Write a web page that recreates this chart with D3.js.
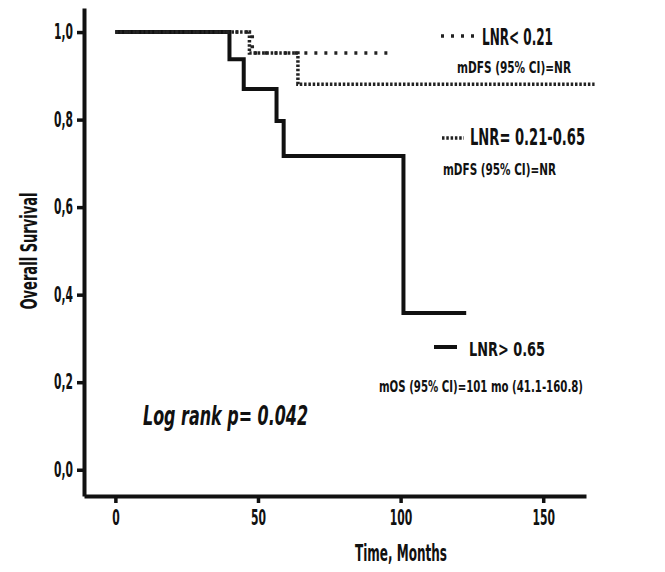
<!DOCTYPE html>
<html>
<head>
<meta charset="utf-8">
<script src="https://cdn.jsdelivr.net/npm/d3@7"></script>
<style>
  body { margin: 0; background: #fff; }
  text { font-family: "Liberation Sans Narrow", "DejaVu Sans Condensed", "Roboto", sans-serif; fill: #111; }
</style>
</head>
<body>
<div id="chart"></div>
<script>
// Kaplan-Meier step data (months, survival)
var lowMonths = [0, 48, 96];
var lowSurv = [1, 0.952, 0.952];

var midMonths = [0, 47, 64, 168];
var midSurv = [1, 0.952, 0.881, 0.881];

var highMonths = [0, 40, 45, 56.5, 59, 101, 123];
var highSurv = [1, 0.938, 0.870, 0.797, 0.717, 0.358, 0.358];

var xTicks = [0, 50, 100, 150];
var yTicks = [0, 0.2, 0.4, 0.6, 0.8, 1.0];

var svgWidth = 665;
var svgHeight = 572;

var margin = { top: 8, left: 84, right: 79, bottom: 76 };
var width = svgWidth - margin.left - margin.right;
var height = svgHeight - margin.top - margin.bottom;

var svg = d3.select("#chart")
    .append("svg")
    .attr("width", svgWidth)
    .attr("height", svgHeight);

var chartGroup = svg.append("g")
    .attr("transform", `translate(${margin.left}, ${margin.top})`);

// scales
var xScale = d3.scaleLinear().domain([-11, 165]).range([0, width]);
var yScale = d3.scaleLinear().domain([-0.06, 1.055]).range([height, 0]);

// axes
var bottomAxis = d3.axisBottom(xScale)
    .tickValues(xTicks)
    .tickSize(7)
    .tickSizeOuter(0)
    .tickPadding(7);

var leftAxis = d3.axisLeft(yScale)
    .tickValues(yTicks)
    .tickSize(7)
    .tickSizeOuter(0)
    .tickPadding(4)
    .tickFormat(function(d) { return d.toFixed(1).replace(".", ","); });

function styleAxis(g) {
    g.select(".domain").attr("stroke", "#111").attr("stroke-width", 4);
    g.selectAll(".tick line").attr("stroke", "#111").attr("stroke-width", 3.5);
    g.selectAll(".tick text")
        .style("font-size", "21px")
        .style("font-weight", "bold")
        .attr("fill", "#111")
        // the original face is very narrow, so squeeze the glyphs
        .attr("textLength", function() {
            var s = d3.select(this).text();
            return s.replace(",", "").length * 7.5 + (s.indexOf(",") >= 0 ? 4 : 0);
        })
        .attr("lengthAdjust", "spacingAndGlyphs");
}

chartGroup.append("g")
    .attr("transform", `translate(0, ${height})`)
    .call(bottomAxis)
    .call(styleAxis);

chartGroup.append("g")
    .call(leftAxis)
    .call(styleAxis);

// curves
var stepLine = d3.line()
    .x(function(d) { return xScale(d[0]); })
    .y(function(d) { return yScale(d[1]); })
    .curve(d3.curveStepAfter);

function pairs(ts, ss) {
    return ts.map(function(t, i) { return [t, ss[i]]; });
}

chartGroup.append("path")
    .datum(pairs(highMonths, highSurv))
    .attr("d", stepLine)
    .attr("fill", "none")
    .attr("stroke", "#111")
    .attr("stroke-width", 4);

chartGroup.append("path")
    .datum(pairs(midMonths, midSurv))
    .attr("d", stepLine)
    .attr("fill", "none")
    .attr("stroke", "#222")
    .attr("stroke-width", 3.5)
    .attr("stroke-dasharray", "2.5,1.8");

chartGroup.append("path")
    .datum(pairs(lowMonths, lowSurv))
    .attr("d", stepLine)
    .attr("fill", "none")
    .attr("stroke", "#222")
    .attr("stroke-width", 3.5)
    .attr("stroke-dasharray", "3,7");

// text helper: place text and squeeze it to the measured width
function label(x, y, str, size, len, opts) {
    opts = opts || {};
    var t = svg.append("text")
        .attr("x", x)
        .attr("y", y)
        .style("font-size", size + "px")
        .style("font-weight", opts.weight || "bold")
        .text(str);
    if (opts.italic) t.style("font-style", "italic");
    if (opts.anchor) t.attr("text-anchor", opts.anchor);
    if (opts.rotate) t.attr("transform", `rotate(-90, ${x}, ${y})`);
    if (len) t.attr("textLength", len).attr("lengthAdjust", "spacingAndGlyphs");
    return t;
}

// axis titles
label(37, 251, "Overall Survival", 23, 117, { anchor: "middle", rotate: true });
label(401, 561, "Time, Months", 23, 92, { anchor: "middle" });

// legend
svg.append("line")
    .attr("x1", 441).attr("x2", 474).attr("y1", 36).attr("y2", 36)
    .attr("stroke", "#222").attr("stroke-width", 3.5).attr("stroke-dasharray", "3,7");
label(482, 45, "LNR< 0.21", 23, 71);
label(457, 73, "mDFS (95% CI)=NR", 15, 114);

svg.append("line")
    .attr("x1", 442).attr("x2", 464).attr("y1", 138).attr("y2", 138)
    .attr("stroke", "#222").attr("stroke-width", 3.5).attr("stroke-dasharray", "2.5,1.8");
label(470, 145, "LNR= 0.21-0.65", 23, 115);
label(443, 175, "mDFS (95% CI)=NR", 15, 113);

svg.append("line")
    .attr("x1", 434).attr("x2", 457).attr("y1", 347).attr("y2", 347)
    .attr("stroke", "#111").attr("stroke-width", 4);
label(469, 356, "LNR> 0.65", 20, 76);
label(379, 392, "mOS (95% CI)=101 mo (41.1-160.8)", 15, 204);

label(143, 425, "Log rank p= 0.042", 26, 165, { italic: true });
</script>
</body>
</html>
